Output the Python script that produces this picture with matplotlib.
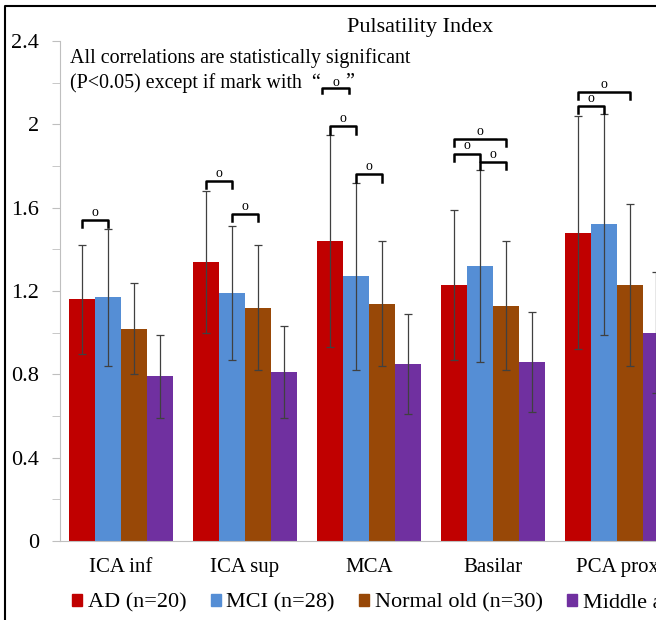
import matplotlib.pyplot as plt
from matplotlib.lines import Line2D
from matplotlib.patches import Patch
import numpy as np

plt.rcParams['font.family'] = ['Liberation Serif', 'DejaVu Serif']

vessels = ['ICA inf', 'ICA sup', 'MCA', 'Basilar', 'PCA prox']
groups = ['AD (n=20)', 'MCI (n=28)', 'Normal old (n=30)', 'Middle age (n=30)']
colors = ['#C00000', '#558ED5', '#984807', '#7030A0']

ad_mean = [1.16, 1.34, 1.44, 1.23, 1.48]
mci_mean = [1.17, 1.19, 1.27, 1.32, 1.52]
old_mean = [1.02, 1.12, 1.14, 1.13, 1.23]
mid_mean = [0.79, 0.81, 0.85, 0.86, 1.00]

ad_sd = [0.26, 0.34, 0.51, 0.36, 0.56]
mci_sd = [0.33, 0.32, 0.45, 0.46, 0.53]
old_sd = [0.22, 0.30, 0.30, 0.31, 0.39]
mid_sd = [0.20, 0.22, 0.24, 0.24, 0.29]

# non-significant pairs: (vessel index, group a, group b, bracket height)
ns_vessel = [0, 1, 1, 2, 2, 3, 3, 3, 4, 4]
ns_a = [0, 0, 1, 0, 1, 0, 0, 1, 0, 0]
ns_b = [1, 1, 2, 1, 2, 2, 1, 2, 2, 1]
ns_y = [1.54, 1.73, 1.57, 1.99, 1.76, 1.93, 1.86, 1.82, 2.155, 2.09]

means = [ad_mean, mci_mean, old_mean, mid_mean]
sds = [ad_sd, mci_sd, old_sd, mid_sd]

W, H = 656, 620
fig = plt.figure(figsize=(W / 100, H / 100), dpi=100)
ax = fig.add_axes([60 / W, (H - 541) / H, 1 - 60 / W, 500 / H])

x = np.arange(len(vessels))
width = 0.21
offsets = (np.arange(4) - 1.5) * width
for k in range(4):
    ax.bar(x + offsets[k], means[k], width, color=colors[k], label=groups[k], zorder=2)
    ax.errorbar(x + offsets[k], means[k], yerr=sds[k], fmt='none', ecolor='#404040',
                elinewidth=0.9, capsize=3, capthick=0.9, zorder=3)

for v, a, b, h in zip(ns_vessel, ns_a, ns_b, ns_y):
    xa, xb = v + offsets[a], v + offsets[b]
    ax.plot([xa, xa, xb, xb], [h - 0.035, h, h, h - 0.035], color='black', lw=1.8, zorder=4)
    ax.text((xa + xb) / 2, h + 0.005, 'o', ha='center', va='bottom', fontsize=10, zorder=4)

ax.set_xlim(-0.492, (W - 121) / 124)
ax.set_ylim(0, 2.4)
ax.set_yticks(np.arange(0, 2.41, 0.4))
ax.set_yticklabels(['0', '0.4', '0.8', '1.2', '1.6', '2', '2.4'])
ax.set_yticks(np.arange(0, 2.41, 0.2), minor=True)
ax.set_xticks(x)
ax.set_xticklabels(vessels)
ax.tick_params(axis='y', which='both', length=6, color='#BFBFBF', labelsize=16, pad=9)
ax.tick_params(axis='x', length=0, labelsize=15, pad=12)
for s in ['top', 'right']:
    ax.spines[s].set_visible(False)
for s in ['left', 'bottom']:
    ax.spines[s].set_color('#BFBFBF')

fig.text(420 / W, 1 - 18 / H, 'Pulsatility Index', ha='center', va='top', fontsize=16)
fig.text(70 / W, 1 - 48 / H, 'All correlations are statistically significant',
         ha='left', va='top', fontsize=14.4)
fig.text(70 / W, 1 - 73 / H, '(P<0.05) except if mark with  \u201c', ha='left', va='top', fontsize=14.4)
bx0, bx1, by = 322 / W, 349 / W, 1 - 88 / H
fig.add_artist(Line2D([bx0, bx0, bx1, bx1], [by - 5 / H, by, by, by - 5 / H], color='black', lw=1.8))
fig.text(336 / W, 1 - 76 / H, 'o', ha='center', va='top', fontsize=10)
fig.text(345 / W, 1 - 73 / H, '\u201d', ha='left', va='top', fontsize=14.4)

# chart area border
fig.add_artist(Line2D([5 / W, 5 / W, 1], [0, 1 - 6 / H, 1 - 6 / H], color='black', lw=1.5))

handles = [Patch(color=c) for c in colors]
fig.legend(handles, groups, loc='center left', bbox_to_anchor=(72 / W, 1 - 603 / H), ncol=4,
           frameon=False, fontsize=16, handlelength=0.45, handleheight=0.45,
           handletextpad=0.25, columnspacing=1.1, borderpad=0, borderaxespad=0)

fig.savefig('out.png', dpi=100)
